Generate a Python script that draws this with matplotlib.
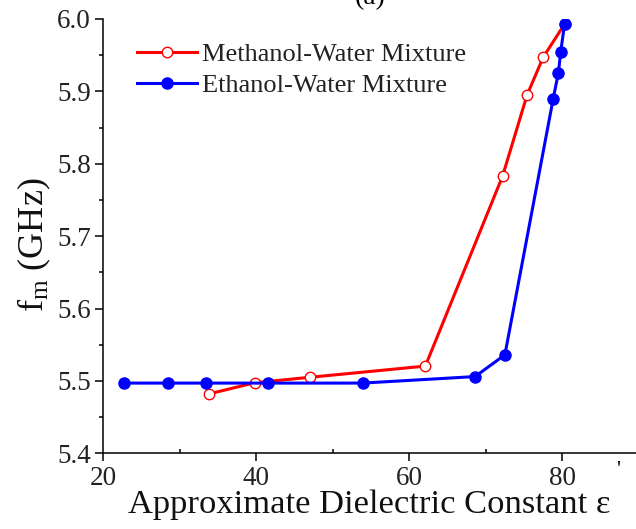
import matplotlib
matplotlib.use("Agg")
import matplotlib.pyplot as plt
from matplotlib.ticker import MultipleLocator

plt.rcParams['font.family'] = ['Liberation Serif', 'DejaVu Serif']
plt.rcParams['mathtext.fontset'] = 'custom'
plt.rcParams['mathtext.rm'] = 'Liberation Serif'
plt.rcParams['mathtext.it'] = 'Liberation Serif:italic'

# Data
methanol_eps = [33.8, 39.8, 47.0, 62.1, 72.2, 75.4, 77.5, 80.3]
methanol_fm = [5.482, 5.4975, 5.505, 5.5205, 5.783, 5.895, 5.947, 5.993]
ethanol_eps = [22.7, 28.4, 33.4, 41.5, 53.9, 68.6, 72.5, 78.8, 79.5, 79.8, 80.3]
ethanol_fm = [5.497, 5.497, 5.497, 5.497, 5.497, 5.506, 5.536, 5.889, 5.926, 5.955, 5.993]
x_ticks = [20, 40, 60, 80]
y_ticks = [5.4, 5.5, 5.6, 5.7, 5.8, 5.9, 6.0]

W, H = 636, 529
fig = plt.figure(figsize=(W / 100, H / 100), dpi=100)
ax = fig.add_axes([103.3 / W, 1 - 453.3 / H, (636 - 103.3) / W, (453.3 - 19) / H])

ax.plot(methanol_eps, methanol_fm, color='#ff0000', lw=2.2, marker='o', ms=7.5,
        mfc='white', mec='#ff0000', mew=1.0, label='Methanol-Water Mixture', zorder=3)
ax.plot(ethanol_eps, ethanol_fm, color='#0000ff', lw=2.2, marker='o', ms=8,
        mfc='#0000ff', mec='#0000ff', label='Ethanol-Water Mixture', zorder=4)

ax.set_xlim(20, 89.64)
ax.set_ylim(5.4, 6.0)
ax.set_xticks(x_ticks)
ax.set_yticks(y_ticks)
ax.set_yticklabels([f"{v:.1f}" for v in y_ticks])
ax.xaxis.set_minor_locator(MultipleLocator(10))
ax.yaxis.set_minor_locator(MultipleLocator(0.05))

for s in ['top', 'right']:
    ax.spines[s].set_visible(False)
for s in ['left', 'bottom']:
    ax.spines[s].set_linewidth(1.1)

ax.tick_params(axis='both', which='major', direction='out', length=5.5, width=1.1,
               labelsize=19.5, pad=3.5, labelcolor='#222222')
ax.tick_params(axis='x', which='minor', direction='in', length=3, width=1.1)
ax.tick_params(axis='y', which='minor', direction='out', length=3, width=1.1)

ax.set_xlabel("Approximate Dielectric Constant ε", fontsize=24.8, labelpad=-1,
              color='#111111')
fig.text(618 / W, 1 - 471 / H, "'", fontsize=16, ha='center', va='center')
ax.set_ylabel(r"f$_\mathrm{m}$ (GHz)", fontsize=26, color='#111111')
ax.yaxis.set_label_coords(-0.094, 0.48)

fig.text(370 / W, 1 - 4 / H, "(a)", fontsize=20, ha='center', va='baseline')

leg = ax.legend(loc='upper left', bbox_to_anchor=(137 / W, 1 - 43 / H),
                bbox_transform=fig.transFigure, frameon=False, fontsize=19,
                handlelength=2.27, handletextpad=0.2, labelspacing=0.28,
                borderaxespad=0, borderpad=0)
for t in leg.get_texts():
    t.set_color('#222222')

fig.savefig("out.png", dpi=100)
